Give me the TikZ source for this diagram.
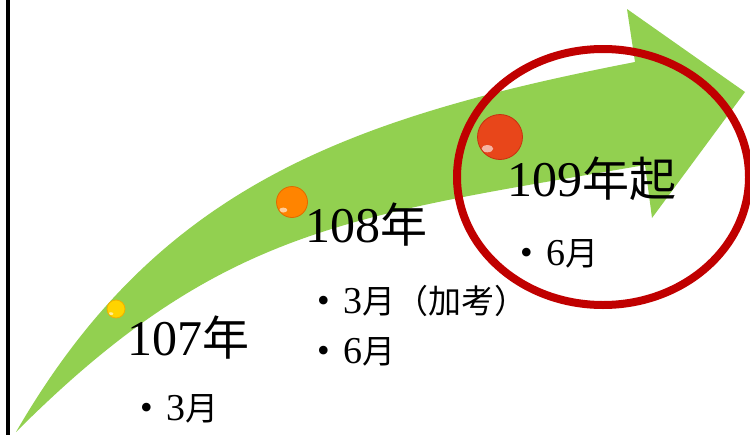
\documentclass[tikz,border=0pt]{standalone}
\usepackage{fontspec}
\setmainfont{Liberation Serif}
\newfontfamily\cjkfont{Noto Sans CJK TC}
\newcommand\fBigNum{\rmfamily\fontsize{50}{50}\selectfont}
\newcommand\fBigCJK{\cjkfont\fontsize{47}{47}\selectfont}
\newcommand\fSmNum{\rmfamily\fontsize{38}{38}\selectfont}
\newcommand\fSmCJK{\cjkfont\fontsize{33}{33}\selectfont}
\newcommand\fBul{\rmfamily\fontsize{36}{36}\selectfont}
\newcommand\bulmark{{\fBul\raisebox{1pt}{•}}\hspace{14pt}}
\definecolor{arrowgreen}{HTML}{92D050}
\definecolor{ringred}{HTML}{C00000}
\definecolor{dotyellow}{HTML}{FFD400}
\definecolor{rimyellow}{HTML}{F0B000}
\definecolor{dotorange}{HTML}{FF8400}
\definecolor{rimorange}{HTML}{E06A00}
\definecolor{dotred}{HTML}{E8461A}
\definecolor{rimred}{HTML}{C83010}
\tikzset{
  lbl/.style={inner sep=0pt, anchor=base west, text=black},
  ball/.style n args={3}{circle, inner sep=0pt, minimum size=#1, fill=#2, draw=#3, line width=0.8pt,
    path picture={\fill[white,opacity=0.6] ([xshift=-0.28*#1, yshift=-0.26*#1]path picture bounding box.center) ellipse [x radius=0.13*#1, y radius=0.08*#1];}},
  ring/.style={draw=ringred, line width=8pt}
}
\begin{document}
\begin{tikzpicture}[x=1pt,y=-1pt]
\useasboundingbox (0,0) rectangle (750,434);
% left rule
\draw[line width=4pt] (8.3,-5) -- (8.3,440);
% curved arrow
\fill[arrowgreen] (16,432) .. controls (156,190) and (341,119) .. (635,62)
  -- (627,9) -- (745,92) -- (652,218) -- (645,165)
  .. controls (350,216) and (221,227) .. (16,432) -- cycle;
% ring
\draw[ring] (603,177) ellipse [x radius=146pt, y radius=128pt];
% dots
\node[ball={18pt}{dotyellow}{rimyellow}] (d107) at (116,309) {};
\node[ball={31pt}{dotorange}{rimorange}] (d108) at (292,202) {};
\node[ball={45pt}{dotred}{rimred}] (d109) at (500,137) {};
% labels
\node[lbl] (t107) at (127,355) {\fBigNum 107\fBigCJK 年};
\node[lbl] (b107) at (140,420) {\bulmark\fSmNum 3\fSmCJK 月};
\node[lbl] (t108) at (305,242) {\fBigNum 108\fBigCJK 年};
\node[lbl] (b108a) at (317,313) {\bulmark\fSmNum 3\fSmCJK 月（加考）};
\node[lbl] (b108b) at (317,363) {\bulmark\fSmNum 6\fSmCJK 月};
\node[lbl] (t109) at (507,196) {\fBigNum 109\fBigCJK 年起};
\node[lbl] (b109) at (520,265) {\bulmark\fSmNum 6\fSmCJK 月};
\end{tikzpicture}
\end{document}
